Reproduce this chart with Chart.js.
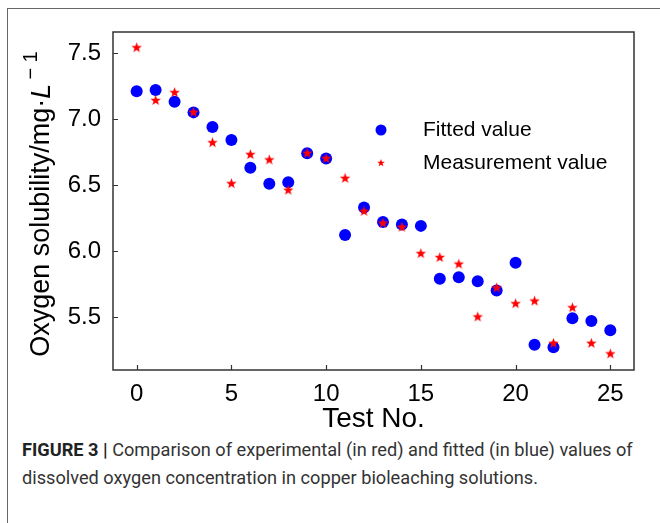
<!DOCTYPE html>
<html>
<head>
<meta charset="utf-8">
<script src="https://cdn.jsdelivr.net/npm/chart.js@4.4.0/dist/chart.umd.min.js"></script>
<style>
  html, body { margin: 0; padding: 0; background: #fff; overflow: hidden; }
  body { width: 660px; height: 523px; position: relative; }
  #frame { position: absolute; left: 7px; top: 8px; width: 700px; height: 600px; border: 1px solid #666; }
  #wrap { position: absolute; left: 0; top: 0; width: 660px; height: 436px; }
  #caption { position: absolute; left: 22px; top: 436px; width: 628px; font: 18.2px Roboto, "Liberation Sans", sans-serif; line-height: 28px; color: #333; }
  #caption b { color: #222; }
</style>
</head>
<body>
<div id="frame"></div>
<div id="wrap"><canvas id="myChart" width="660" height="436"></canvas></div>
<div id="caption"><b>FIGURE 3 |</b> Comparison of experimental (in red) and fitted (in blue) values of dissolved oxygen concentration in copper bioleaching solutions.</div>
<script>
// data
var testNo = [0, 1, 2, 3, 4, 5, 6, 7, 8, 9, 10, 11, 12, 13, 14, 15, 16, 17, 18, 19, 20, 21, 22, 23, 24, 25];
var fitted = [7.21, 7.22, 7.13, 7.05, 6.94, 6.84, 6.63, 6.51, 6.52, 6.74, 6.70, 6.12, 6.33, 6.22, 6.20, 6.19,
              5.79, 5.80, 5.77, 5.70, 5.91, 5.29, 5.27, 5.49, 5.47, 5.40];
var measured = [7.54, 7.14, 7.20, 7.05, 6.82, 6.51, 6.73, 6.69, 6.46, 6.74, 6.70, 6.55, 6.30, 6.21, 6.18, 5.98,
                5.95, 5.90, 5.50, 5.72, 5.60, 5.62, 5.30, 5.57, 5.30, 5.22];
var xTicks = [0, 5, 10, 15, 20, 25];
var yTicks = [5.5, 6.0, 6.5, 7.0, 7.5];
var seriesNames = ['Fitted value', 'Measurement value'];

var FONT = '"Liberation Sans", Arial, sans-serif';

function makeStar(r) {
    var c = document.createElement('canvas');
    var s = Math.ceil(r * 2 + 2);
    c.width = s; c.height = s;
    var g = c.getContext('2d');
    g.fillStyle = '#ff0000';
    g.beginPath();
    for (var i = 0; i < 10; i++) {
        var a = -Math.PI / 2 + i * Math.PI / 5;
        var rr = (i % 2 === 0) ? r : r * 0.42;
        g.lineTo(s / 2 + rr * Math.cos(a), s / 2 + rr * Math.sin(a));
    }
    g.closePath();
    g.fill();
    return c;
}
var starImg = makeStar(5.5);
var starSmall = makeStar(4);

function toXY(ys) {
    return testNo.map(function(x, i) { return { x: x, y: ys[i] }; });
}

// box, inward ticks, legend and y title
var decor = {
    id: 'decor',
    afterDraw: function(chart) {
        var ctx = chart.ctx;
        var a = chart.chartArea;
        var xs = chart.scales.x, ys = chart.scales.y;
        ctx.save();
        ctx.strokeStyle = '#333';
        ctx.lineWidth = 1.5;
        ctx.strokeRect(a.left, a.top, a.right - a.left, a.bottom - a.top);
        ctx.lineWidth = 1.2;
        ctx.beginPath();
        xTicks.forEach(function(v) {
            var px = Math.round(xs.getPixelForValue(v)) + 0.5;
            ctx.moveTo(px, a.bottom);
            ctx.lineTo(px, a.bottom - 5);
        });
        yTicks.forEach(function(v) {
            var py = Math.round(ys.getPixelForValue(v)) + 0.5;
            ctx.moveTo(a.left, py);
            ctx.lineTo(a.left + 5, py);
        });
        ctx.stroke();

        // legend
        ctx.fillStyle = '#0000ff';
        ctx.beginPath();
        ctx.arc(381, 130, 5.5, 0, Math.PI * 2);
        ctx.fill();
        ctx.drawImage(starSmall, 381 - starSmall.width / 2, 163 - starSmall.height / 2);
        ctx.fillStyle = '#000';
        ctx.font = '21px ' + FONT;
        ctx.textBaseline = 'middle';
        ctx.textAlign = 'left';
        ctx.fillText(seriesNames[0], 423, 130);
        ctx.fillText(seriesNames[1], 423, 163);

        // y axis title
        ctx.translate(42, 204);
        ctx.rotate(-Math.PI / 2);
        var f1 = '27px ' + FONT, f2 = 'italic 27px ' + FONT, f3 = '20px ' + FONT;
        var p1 = 'Oxygen solubility/mg\u00b7', p2 = 'L', p3 = '\u2212 1';
        ctx.font = f1; var w1 = ctx.measureText(p1).width;
        ctx.font = f2; var w2 = ctx.measureText(p2).width;
        ctx.font = f3; var w3 = ctx.measureText(p3).width;
        var x0 = -(w1 + w2 + 4 + w3) / 2;
        ctx.font = f1; ctx.fillText(p1, x0, 0);
        ctx.font = f2; ctx.fillText(p2, x0 + w1, 0);
        ctx.font = f3; ctx.fillText(p3, x0 + w1 + w2 + 4, -11);
        ctx.restore();
    }
};

var ctx = document.getElementById('myChart').getContext('2d');
var chart = new Chart(ctx, {
    type: 'scatter',
    data: {
        datasets: [{
            label: seriesNames[0],
            data: toXY(fitted),
            pointStyle: 'circle',
            pointRadius: 6,
            backgroundColor: '#0000ff',
            borderWidth: 0,
            order: 2
        }, {
            label: seriesNames[1],
            data: toXY(measured),
            pointStyle: starImg,
            order: 1
        }]
    },
    options: {
        responsive: false,
        animation: false,
        layout: { padding: { top: 32, right: 26, bottom: 0, left: 0 } },
        plugins: { legend: { display: false }, tooltip: { enabled: false } },
        scales: {
            x: {
                type: 'linear',
                min: -1.25,
                max: 26.25,
                grid: { display: false },
                border: { display: false },
                afterBuildTicks: function(s) { s.ticks = xTicks.map(function(v) { return { value: v }; }); },
                afterFit: function(s) { s.height = 66; },
                ticks: { color: '#000', font: { family: FONT, size: 24 }, padding: 2, maxRotation: 0 },
                title: {
                    display: true, text: 'Test No.', color: '#000',
                    font: { family: FONT, size: 28 }, padding: { top: 0, bottom: 0 }
                }
            },
            y: {
                min: 5.098,
                max: 7.659,
                grid: { display: false },
                border: { display: false },
                afterBuildTicks: function(s) { s.ticks = yTicks.map(function(v) { return { value: v }; }); },
                afterFit: function(s) { s.width = 113; },
                ticks: {
                    color: '#000', font: { family: FONT, size: 24 }, padding: 4,
                    callback: function(v) { return v.toFixed(1); }
                }
            }
        }
    },
    plugins: [decor]
});
</script>
</body>
</html>
